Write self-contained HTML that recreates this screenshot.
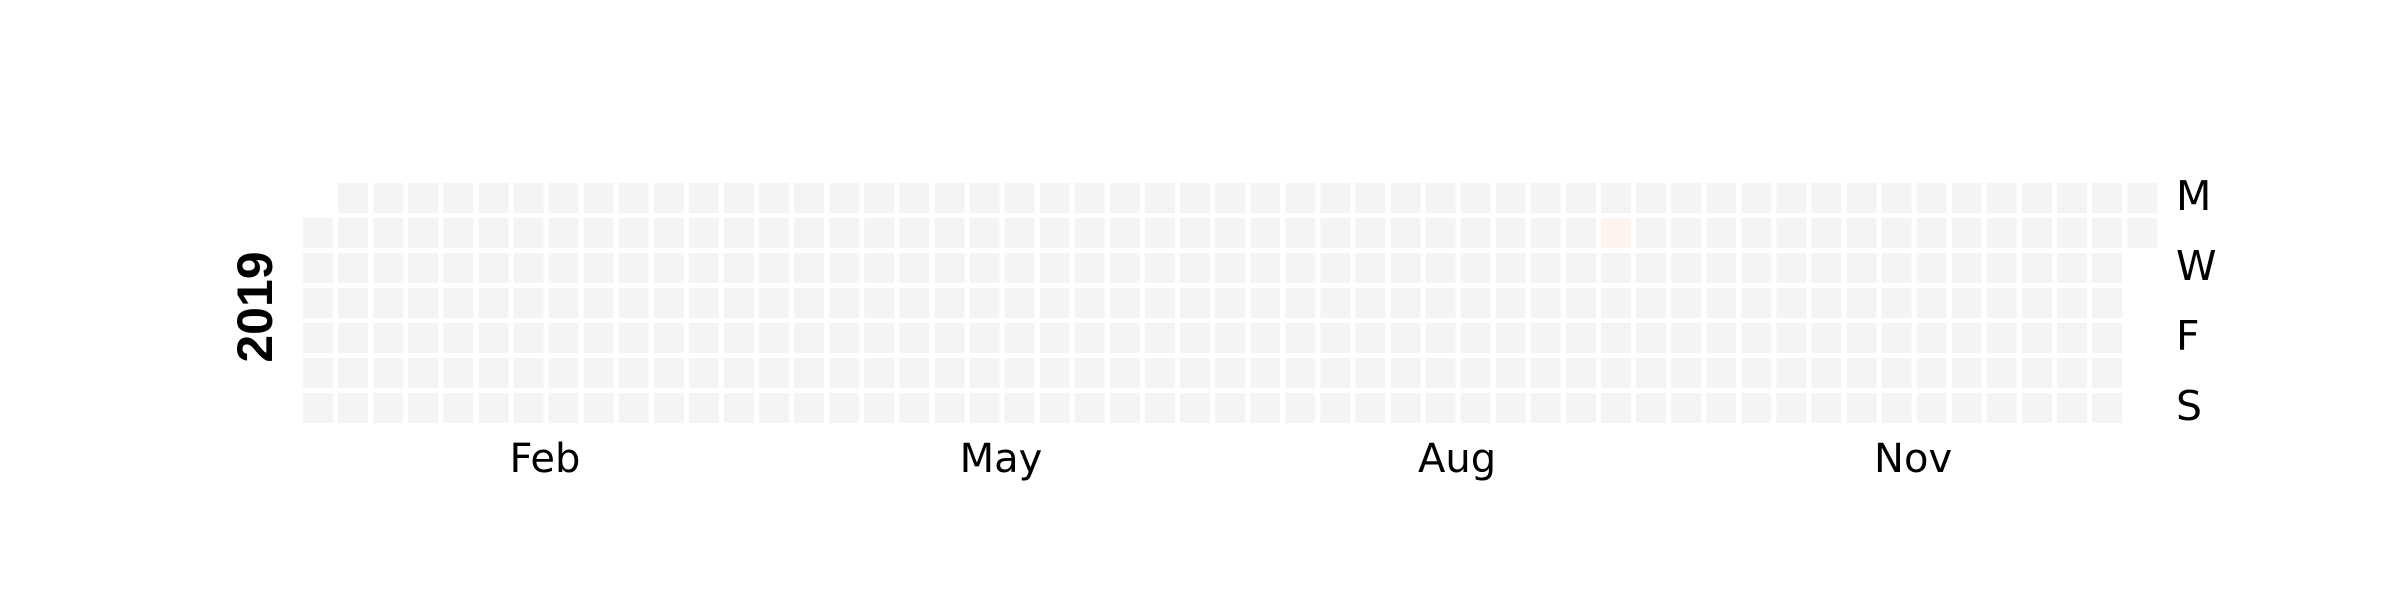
<!DOCTYPE html>
<html><head><meta charset="utf-8"><style>
html,body{margin:0;padding:0;background:#fff;width:2400px;height:600px;overflow:hidden}
svg text{font-family:"DejaVu Sans","Liberation Sans",sans-serif}
</style></head><body>
<svg id="chart" width="2400" height="600" viewBox="0 0 2400 600" xmlns="http://www.w3.org/2000/svg">
<g id="cells"></g>
<text x="272" y="307" transform="rotate(-90 272 307)" text-anchor="middle" font-family="Liberation Sans, sans-serif" font-weight="bold" font-size="50" fill="#000" style="font-family:'Liberation Sans',sans-serif">2019</text>
<g id="days"></g>
<g id="months"></g>
</svg>
<script>
const year = 2019;
const highlightDates = ["2019-09-17"];
const highlightValues = [1];
const monthLabels = ["Feb","May","Aug","Nov"];
const monthCols = [6.47, 19.47, 32.47, 45.47];
const dayLabels = ["M","W","F","S"];
const dayRows = [0, 2, 4, 6];

const NS = "http://www.w3.org/2000/svg";
const x0 = 303, y0 = 183, pitchX = 35.08, pitchY = 35, cell = 30;
const colX = c => x0 + c * pitchX;
const rowY = r => y0 + r * pitchY;
const cellsG = document.getElementById('cells');
const start = new Date(Date.UTC(year, 0, 1));
const startDow = (start.getUTCDay() + 6) % 7;
const hl = {};
highlightDates.forEach((d, i) => hl[d] = highlightValues[i]);
for (let d = new Date(start); d.getUTCFullYear() === year; d.setUTCDate(d.getUTCDate() + 1)) {
  const idx = Math.round((d - start) / 86400000) + startDow;
  const col = Math.floor(idx / 7), row = idx % 7;
  const key = d.toISOString().slice(0, 10);
  const r = document.createElementNS(NS, 'rect');
  r.setAttribute('x', colX(col)); r.setAttribute('y', rowY(row));
  r.setAttribute('width', cell); r.setAttribute('height', cell);
  r.setAttribute('fill', hl[key] ? '#fef3ee' : '#f4f4f4');
  
  
  cellsG.appendChild(r);
}
const daysG = document.getElementById('days');
dayLabels.forEach((t, i) => {
  const e = document.createElementNS(NS, 'text');
  e.setAttribute('x', 2176); e.setAttribute('y', rowY(dayRows[i]) + 27);
  e.setAttribute('font-size', '41'); e.setAttribute('fill', '#000');
  e.textContent = t;
  
  
  daysG.appendChild(e);
});
const monthsG = document.getElementById('months');
monthLabels.forEach((t, i) => {
  const e = document.createElementNS(NS, 'text');
  e.setAttribute('x', colX(monthCols[i]) + cell / 2); e.setAttribute('y', 472);
  e.setAttribute('font-size', '40'); e.setAttribute('fill', '#000');
  e.setAttribute('text-anchor', 'middle');
  e.textContent = t;
  
  
  monthsG.appendChild(e);
});
</script>
</body></html>
